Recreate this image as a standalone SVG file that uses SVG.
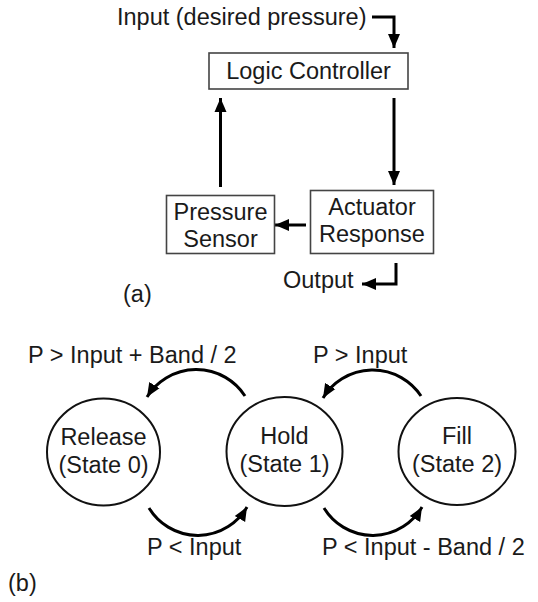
<svg xmlns="http://www.w3.org/2000/svg" width="538" height="602" viewBox="0 0 538 602">
<style>
text{font-family:"Liberation Sans",Arial,sans-serif;font-size:23.5px;fill:#1a1a1a}
.c{text-anchor:middle}
.box{fill:#fff;stroke:#444;stroke-width:1.6}
.st{fill:#fff;stroke:#111;stroke-width:2}
.ar{fill:none;stroke:#000;stroke-width:3}
</style>
<defs>
<marker id="ah" markerUnits="userSpaceOnUse" markerWidth="15" markerHeight="15" viewBox="0 0 15 15" refX="14" refY="7.5" orient="auto">
<path d="M0,1.5 L14,7.5 L0,13.5 Z" fill="#000"/>
</marker>
</defs>
<rect width="538" height="602" fill="#fff"/>
<g id="connectors">
<path class="ar" d="M372,17 H394 V48" marker-end="url(#ah)"/>
<path class="ar" d="M394,98 V185" marker-end="url(#ah)"/>
<path class="ar" d="M220.5,187 V98" marker-end="url(#ah)"/>
<path class="ar" d="M306,225 H275" marker-end="url(#ah)"/>
<path class="ar" d="M396,263 V284 H362" marker-end="url(#ah)"/>
<path class="ar" d="M245,396 A58 58 0 0 0 147,397" marker-end="url(#ah)"/>
<path class="ar" d="M421,396 A58 58 0 0 0 323,398" marker-end="url(#ah)"/>
<path class="ar" d="M149,508 A57 57 0 0 0 247,507" marker-end="url(#ah)"/>
<path class="ar" d="M324,508 A57 57 0 0 0 422,507" marker-end="url(#ah)"/>
</g>
<g id="input-label"><text x="117" y="25">Input (desired pressure)</text></g>
<g id="logic-controller">
<rect class="box" x="209" y="53" width="199" height="36"/>
<text class="c" x="308.5" y="79">Logic Controller</text>
</g>
<g id="pressure-sensor">
<rect class="box" x="166.5" y="195.5" width="108" height="58"/>
<text class="c" x="220.5" y="220">Pressure</text>
<text class="c" x="220.5" y="247">Sensor</text>
</g>
<g id="actuator-response">
<rect class="box" x="310.5" y="190.5" width="123" height="63"/>
<text class="c" x="372" y="215">Actuator</text>
<text class="c" x="372" y="242">Response</text>
</g>
<g id="output-label"><text x="283" y="288">Output</text></g>
<text x="123" y="302">(a)</text>
<g id="release">
<ellipse class="st" cx="103.5" cy="452" rx="56.5" ry="53.5"/>
<text class="c" x="103.5" y="445">Release</text>
<text class="c" x="103.5" y="473">(State 0)</text>
</g>
<g id="hold">
<ellipse class="st" cx="284.5" cy="451.5" rx="58" ry="54.5"/>
<text class="c" x="284.5" y="444">Hold</text>
<text class="c" x="284.5" y="472">(State 1)</text>
</g>
<g id="fill">
<ellipse class="st" cx="457" cy="451.5" rx="58.5" ry="53.5"/>
<text class="c" x="457" y="444">Fill</text>
<text class="c" x="457" y="472">(State 2)</text>
</g>
<text x="28" y="363">P &gt; Input + Band / 2</text>
<text x="313" y="363">P &gt; Input</text>
<text x="147" y="555">P &lt; Input</text>
<text x="322" y="555">P &lt; Input - Band / 2</text>
<text x="8" y="591">(b)</text>
</svg>
